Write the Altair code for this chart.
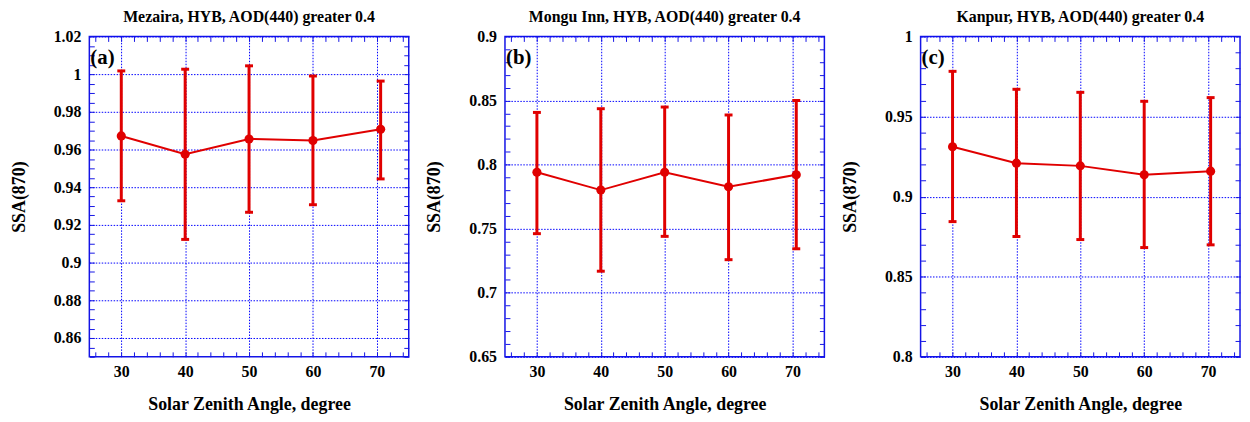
import altair as alt
import pandas as pd

# ---------------- data ----------------
titles = [
    "Mezaira, HYB, AOD(440) greater 0.4",
    "Mongu Inn, HYB, AOD(440) greater 0.4",
    "Kanpur, HYB, AOD(440) greater 0.4",
]
panel_labels = ["(a)", "(b)", "(c)"]

sza_a = [30, 40, 50, 60, 70.6]
ssa_a = [0.9672, 0.9575, 0.9656, 0.9648, 0.9707]
hi_a = [1.0017, 1.0026, 1.0044, 0.9990, 0.9963]
lo_a = [0.9328, 0.9123, 0.9267, 0.9307, 0.9444]

sza_b = [30, 40, 50, 60, 70.6]
ssa_b = [0.7940, 0.7801, 0.7940, 0.7827, 0.7920]
hi_b = [0.8407, 0.8436, 0.8449, 0.8387, 0.8500]
lo_b = [0.7461, 0.7168, 0.7440, 0.7258, 0.7343]

sza_c = [30, 40, 50, 60, 70.4]
ssa_c = [0.9311, 0.9209, 0.9192, 0.9136, 0.9159]
hi_c = [0.9782, 0.9670, 0.9651, 0.9595, 0.9618]
lo_c = [0.8844, 0.8751, 0.8732, 0.8682, 0.8699]

x_domain = [25, 75]
x_ticks = [26, 28, 30, 32, 34, 36, 38, 40, 42, 44, 46, 48, 50, 52, 54, 56, 58,
           60, 62, 64, 66, 68, 70, 72, 74]
x_major = 10

y_domains = [[0.85, 1.02], [0.65, 0.9], [0.8, 1.0]]
y_major_steps = [0.02, 0.05, 0.05]
y_minor_steps = [0.005, 0.01, 0.01]

x_title = "Solar Zenith Angle, degree"
y_title = "SSA(870)"

# ---------------- styling ----------------
FONT = "Liberation Serif"
RED = "#e00000"
BLUE = "#1414e6"
GRID = "#0000ff"
W, H = 322, 323

sza = [sza_a, sza_b, sza_c]
ssa = [ssa_a, ssa_b, ssa_c]
his = [hi_a, hi_b, hi_c]
los = [lo_a, lo_b, lo_c]


def y_tick_values(i):
    d0, d1 = y_domains[i]
    st = y_minor_steps[i]
    n = int(round((d1 - d0) / st))
    return [round(d0 + k * st, 4) for k in range(n + 1)]


INWARD = {"expr": "-5"}


def panel(i):
    df = pd.DataFrame({"sza": sza[i], "ssa": ssa[i], "lo": los[i], "hi": his[i]})
    xs = alt.Scale(domain=x_domain, nice=False, zero=False)
    ys = alt.Scale(domain=y_domains[i], nice=False, zero=False)
    yt = y_tick_values(i)
    st = y_major_steps[i]
    ytest = f"abs(datum.value/{st} - round(datum.value/{st})) < 0.01"
    xtest = f"datum.value % {x_major} === 0"

    x_main = alt.Axis(
        orient="bottom", values=x_ticks, format="~g",
        labelExpr=f"{xtest} ? datum.label : ''",
        grid=True, gridOpacity={"condition": {"test": xtest, "value": 1}, "value": 0},
        tickSize=INWARD, labelPadding=12, labelOverlap=False, labelFlush=False,
        title=x_title, titleX=W / 2, titleY=48, titleAlign="center",
        titleBaseline="middle",
    )
    y_main = alt.Axis(
        orient="left", values=yt, format="~g",
        labelExpr=f"{ytest} ? datum.label : ''",
        grid=True, gridOpacity={"condition": {"test": ytest, "value": 1}, "value": 0},
        tickSize=INWARD, labelPadding=13.5, labelOverlap=False, labelFlush=False,
        title=y_title, titleX=-70.5, titleY=H / 2, titleAngle=270,
        titleAlign="center", titleBaseline="middle",
    )
    x_mirror = alt.Axis(orient="top", values=x_ticks, labels=False, grid=False,
                        tickSize=INWARD, title=None)
    y_mirror = alt.Axis(orient="right", values=yt, labels=False, grid=False,
                        tickSize=INWARD, title=None)

    base = alt.Chart(df)
    rules = base.mark_rule(color=RED, strokeWidth=3).encode(
        x=alt.X("sza:Q", scale=xs, axis=x_main),
        y=alt.Y("lo:Q", scale=ys, axis=y_main),
        y2="hi:Q",
    )
    caps = base.transform_fold(["lo", "hi"], as_=["end", "v"]).mark_tick(
        orient="horizontal", color=RED, size=8, thickness=3, opacity=1
    ).encode(
        x=alt.X("sza:Q", scale=xs, axis=None),
        y=alt.Y("v:Q", scale=ys, axis=None),
    )
    line = base.mark_line(color=RED, strokeWidth=2).encode(
        x=alt.X("sza:Q", scale=xs, axis=x_mirror),
        y=alt.Y("ssa:Q", scale=ys, axis=y_mirror),
    )
    pts = base.mark_circle(color=RED, size=85, opacity=1).encode(
        x=alt.X("sza:Q", scale=xs, axis=None),
        y=alt.Y("ssa:Q", scale=ys, axis=None),
    )
    lab = alt.Chart(alt.Data(values=[{"t": panel_labels[i]}])).mark_text(
        align="left", baseline="middle", font=FONT, fontSize=21,
        fontWeight="bold", color="black"
    ).encode(x=alt.value(1), y=alt.value(22), text="t:N")

    return alt.layer(rules, caps, line, pts, lab).resolve_axis(
        x="independent", y="independent"
    ).properties(
        width=W, height=H,
        title=alt.TitleParams(
            titles[i], font=FONT, fontSize=16, fontWeight="bold", color="black",
            anchor="middle", frame="group", baseline="alphabetic", offset=-9,
        ),
    )


chart = alt.hconcat(panel(0), panel(1), panel(2), spacing=97, bounds="flush").properties(
    padding={"left": 1, "top": -2, "right": 0, "bottom": 0}
).configure_axis(
    labelFont=FONT, labelFontSize=16, labelFontWeight="bold", labelColor="black",
    titleFont=FONT, titleFontSize=18, titleFontWeight="bold", titleColor="black",
    domain=False, tickColor=BLUE, tickWidth=1,
    gridColor=GRID, gridDash=[1.5, 1.5], gridWidth=1,
).configure_view(stroke=BLUE, strokeWidth=1.5)

chart.save("out.html", embed_options={"renderer": "svg", "actions": False})
